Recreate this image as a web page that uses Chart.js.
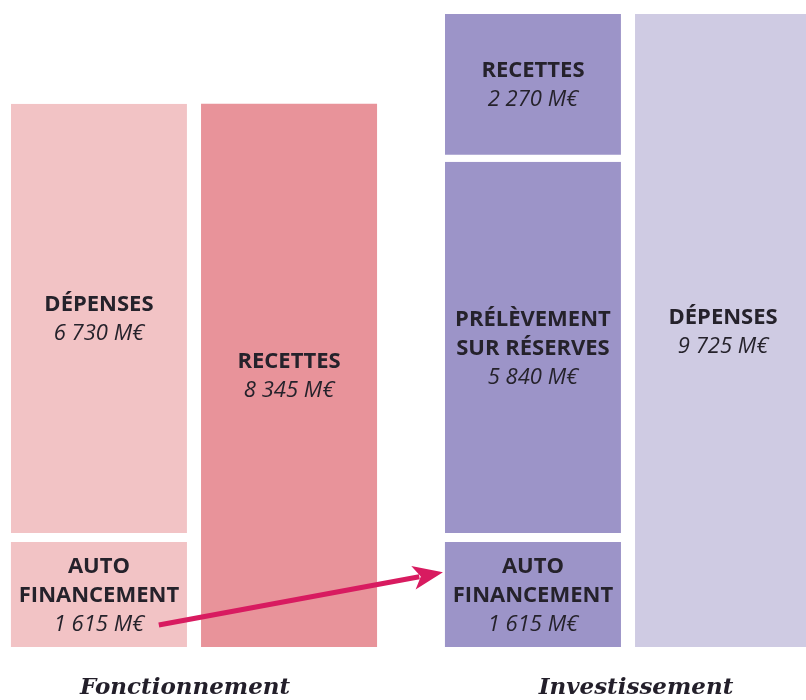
<!DOCTYPE html>
<html>
<head>
<meta charset="utf-8">
<script src="https://cdn.jsdelivr.net/npm/chart.js@4"></script>
<style>
  body { margin: 0; background: #fff; }
  canvas { display: block; }
</style>
</head>
<body>
<canvas id="budgetChart" width="806" height="700"></canvas>
<script>
// Groups (x categories)
const groups = ['Fonctionnement', 'Investissement'];

// Values in M€, one entry per group
const autofinancement = [1615, 1615];
const middleSegment = [6730, 5840];      // Dépenses (fonct.) / Prélèvement sur réserves
const recettesInvest = [null, 2270];
const rightBar = [8345, 9725];           // Recettes (fonct.) / Dépenses (invest.)

// Segment names
const autofinancementNames = [['AUTO', 'FINANCEMENT'], ['AUTO', 'FINANCEMENT']];
const middleNames = [['DÉPENSES'], ['PRÉLÈVEMENT', 'SUR RÉSERVES']];
const recettesInvestNames = [null, ['RECETTES']];
const rightNames = [['RECETTES'], ['DÉPENSES']];

const leftColors = ['#f2c3c5', '#9c94c8'];
const rightColors = ['#e8939a', '#cfcbe3'];

function fmt(v) {
    return String(v).replace(/\B(?=(\d{3})+(?!\d))/g, ' ') + ' M€';
}

function gapBorder(px) {
    return { top: 0, left: 0, right: 0, bottom: px };
}

// Draws names + values inside each segment, group titles and the arrow
const labelsPlugin = {
    id: 'segmentLabels',
    afterDatasetsDraw(chart) {
        const ctx = chart.ctx;
        ctx.save();
        ctx.textAlign = 'center';
        ctx.textBaseline = 'alphabetic';
        ctx.fillStyle = '#25222b';
        chart.data.datasets.forEach((ds, di) => {
            const meta = chart.getDatasetMeta(di);
            meta.data.forEach((bar, i) => {
                const names = ds.names[i];
                if (!names || ds.data[i] == null) return;
                const border = ds.borderWidth.bottom || 0;
                const top = bar.y;
                const bottom = bar.base - border;
                const lines = names.length + 1;
                const lh = 29;
                let y = (top + bottom) / 2 - (lines * lh) / 2 + 22;
                ctx.font = 'bold 22px "Open Sans"';
                names.forEach(n => {
                    ctx.fillText(n, bar.x, y);
                    y += lh;
                });
                ctx.font = 'italic 22px "Open Sans"';
                ctx.fillText(fmt(ds.data[i]), bar.x, y);
            });
        });

        // group titles
        const xs = chart.scales.x;
        const titleShift = [-9, 8];
        ctx.font = 'italic bold 23px "DejaVu Serif"';
        ctx.fillStyle = '#231f2a';
        groups.forEach((g, i) => {
            ctx.fillText(g, xs.getPixelForValue(i) + titleShift[i], 694);
        });

        // arrow from autofinancement (fonct.) to autofinancement (invest.)
        const a = chart.getDatasetMeta(0).data[0];
        const b = chart.getDatasetMeta(0).data[1];
        const ah = a.base - a.y;
        const bh = b.base - b.y;
        const x1 = a.x + a.width * 0.34;
        const y1 = a.base - ah * 0.21;
        const x2 = b.x - b.width / 2 - 2;
        const y2 = b.y + bh * 0.29;
        const ang = Math.atan2(y2 - y1, x2 - x1);
        const headLen = 30, headW = 12;
        ctx.strokeStyle = '#d81b60';
        ctx.fillStyle = '#d81b60';
        ctx.lineWidth = 5;
        ctx.beginPath();
        ctx.moveTo(x1, y1);
        ctx.lineTo(x2 - Math.cos(ang) * headLen * 0.8, y2 - Math.sin(ang) * headLen * 0.8);
        ctx.stroke();
        ctx.beginPath();
        ctx.moveTo(x2, y2);
        ctx.lineTo(x2 - Math.cos(ang) * headLen - Math.sin(ang) * headW,
                   y2 - Math.sin(ang) * headLen + Math.cos(ang) * headW);
        ctx.lineTo(x2 - Math.cos(ang) * headLen * 0.75, y2 - Math.sin(ang) * headLen * 0.75);
        ctx.lineTo(x2 - Math.cos(ang) * headLen + Math.sin(ang) * headW,
                   y2 - Math.sin(ang) * headLen - Math.cos(ang) * headW);
        ctx.closePath();
        ctx.fill();
        ctx.restore();
    }
};

const ctx = document.getElementById('budgetChart').getContext('2d');
new Chart(ctx, {
    type: 'bar',
    data: {
        labels: groups,
        datasets: [
            {
                label: 'Autofinancement',
                data: autofinancement,
                names: autofinancementNames,
                stack: 'left',
                backgroundColor: leftColors,
                borderColor: '#fff',
                borderWidth: gapBorder(0),
                borderSkipped: false,
                clip: false
            },
            {
                label: 'Dépenses / Prélèvement',
                data: middleSegment,
                names: middleNames,
                stack: 'left',
                backgroundColor: leftColors,
                borderColor: '#fff',
                borderWidth: gapBorder(9),
                borderSkipped: false,
                clip: false
            },
            {
                label: 'Recettes invest.',
                data: recettesInvest,
                names: recettesInvestNames,
                stack: 'left',
                backgroundColor: leftColors,
                borderColor: '#fff',
                borderWidth: gapBorder(7),
                borderSkipped: false,
                clip: false
            },
            {
                label: 'Recettes / Dépenses',
                data: rightBar,
                names: rightNames,
                stack: 'right',
                backgroundColor: rightColors,
                borderColor: '#fff',
                borderWidth: gapBorder(0),
                borderSkipped: false,
                clip: false
            }
        ]
    },
    options: {
        responsive: false,
        animation: false,
        categoryPercentage: 0.876,
        barPercentage: 0.926,
        layout: {
            padding: { top: 14, bottom: 53, left: 194, right: 178 }
        },
        plugins: {
            legend: { display: false },
            tooltip: { enabled: false }
        },
        scales: {
            x: {
                display: false,
                offset: false,
                stacked: true
            },
            y: {
                display: false,
                stacked: true,
                min: 0,
                max: 9725
            }
        }
    },
    plugins: [labelsPlugin]
});
</script>
</body>
</html>
